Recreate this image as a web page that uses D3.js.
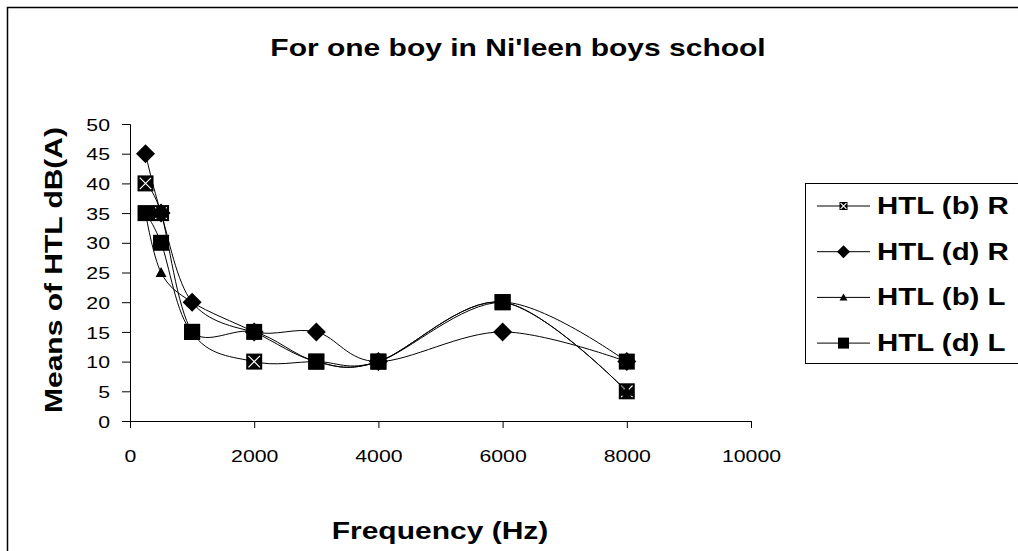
<!DOCTYPE html>
<html>
<head>
<meta charset="utf-8">
<script src="https://cdn.jsdelivr.net/npm/d3@7"></script>
<style>
  html, body { margin: 0; padding: 0; background: #fff; }
  svg { display: block; font-family: "Liberation Sans", Arial, sans-serif; }
</style>
</head>
<body>
<svg id="chart" width="1018" height="551"></svg>
<script>
// Test frequencies (Hz)
const frequencies = [250, 500, 1000, 2000, 3000, 4000, 6000, 8000];

// Hearing threshold levels, dB(A)
const htlBR = [40, 35, 15, 10, 10, 10, 20, 5];
const htlDR = [45, 35, 20, 15, 15, 10, 15, 10];
const htlBL = [35, 25, 20, 15, 10, 10, 20, 5];
const htlDL = [35, 30, 15, 15, 10, 10, 20, 10];

const seriesNames = ["HTL (b) R", "HTL (d) R", "HTL (b) L", "HTL (d) L"];
const seriesValues = [htlBR, htlDR, htlBL, htlDL];
const seriesMarkers = ["xbox", "diamond", "triangle", "square"];

const xTicks = [0, 2000, 4000, 6000, 8000, 10000];
const yTicks = [0, 5, 10, 15, 20, 25, 30, 35, 40, 45, 50];

const titleText = "For one boy in Ni'leen boys school";
const xTitle = "Frequency (Hz)";
const yTitle = "Means of HTL dB(A)";

// the whole chart uses a slightly wide text face
const STRETCH = 1.25;

const svg = d3.select("#chart");

// outer chart frame
svg.append("rect")
  .attr("x", 7.5).attr("y", 7.5)
  .attr("width", 1030).attr("height", 560)
  .attr("fill", "#fff").attr("stroke", "#000").attr("stroke-width", 1.5);

const x = d3.scaleLinear().domain([0, 10000]).range([130, 751]);
const y = d3.scaleLinear().domain([0, 50]).range([421, 124]);

// axes
const xAxis = d3.axisBottom(x).tickValues(xTicks).tickSize(7).tickFormat(d3.format("d"));
const yAxis = d3.axisLeft(y).tickValues(yTicks).tickSize(8).tickFormat(d3.format("d"));

const gx = svg.append("g").attr("transform", `translate(0,${y(0)})`).call(xAxis);
const gy = svg.append("g").attr("transform", `translate(${x(0)},0)`).call(yAxis);
[gx, gy].forEach(g => {
  g.selectAll("path.domain").attr("stroke", "#000").attr("stroke-width", 1);
  g.selectAll(".tick line").attr("stroke", "#000");
  g.selectAll(".tick text")
    .attr("fill", "#000")
    .style("font-family", "'Liberation Sans', Arial, sans-serif")
    .style("font-size", "17px");
});
gx.selectAll(".tick text")
  .attr("x", null).attr("y", null).attr("dy", null)
  .attr("transform", `translate(0,41) scale(${STRETCH},1)`);
gy.selectAll(".tick text")
  .attr("x", null).attr("dy", "0.36em")
  .attr("transform", `translate(-20,0) scale(${STRETCH},1)`);

// marker drawing
function drawMarker(g, type, cx, cy, s) {
  const h = s / 2;
  if (type === "xbox") {
    g.append("rect").attr("x", cx - h).attr("y", cy - h)
      .attr("width", s).attr("height", s).attr("fill", "#000");
    const k = h * 0.72;
    g.append("path")
      .attr("d", `M${cx - k},${cy - k}L${cx + k},${cy + k}M${cx + k},${cy - k}L${cx - k},${cy + k}`)
      .attr("stroke", "#fff").attr("stroke-width", 1.2);
  } else if (type === "diamond") {
    g.append("path")
      .attr("d", `M${cx},${cy - h}L${cx + h},${cy}L${cx},${cy + h}L${cx - h},${cy}Z`)
      .attr("fill", "#000");
  } else if (type === "triangle") {
    g.append("path")
      .attr("d", `M${cx},${cy - h}L${cx + h},${cy + h * 0.8}L${cx - h},${cy + h * 0.8}Z`)
      .attr("fill", "#000");
  } else {
    g.append("rect").attr("x", cx - h).attr("y", cy - h)
      .attr("width", s).attr("height", s).attr("fill", "#000");
  }
}

const plotSizes = { xbox: 16, diamond: 19, triangle: 11, square: 16 };
const legendSizes = { xbox: 8, diamond: 13, triangle: 8, square: 11 };

const line = d3.line()
  .x((d, i) => x(frequencies[i]))
  .y(d => y(d))
  .curve(d3.curveCardinal.tension(0));

// series: smoothed line then markers, in series order
seriesValues.forEach((vals, si) => {
  const g = svg.append("g");
  g.append("path").datum(vals)
    .attr("d", line)
    .attr("fill", "none").attr("stroke", "#000").attr("stroke-width", 1);
  vals.forEach((v, i) => drawMarker(g, seriesMarkers[si], x(frequencies[i]), y(v), plotSizes[seriesMarkers[si]]));
});

// bold text helper, widened about its anchor
function boldText(tx, ty, rot, size, str, anchor) {
  svg.append("text")
    .attr("transform", `translate(${tx},${ty}) rotate(${rot}) scale(${STRETCH},1)`)
    .attr("text-anchor", anchor)
    .style("font-size", size + "px").style("font-weight", "bold")
    .text(str);
}

// titles
boldText(518, 56, 0, 24, titleText, "middle");
boldText(440, 539, 0, 24, xTitle, "middle");
boldText(62, 270, -90, 24, yTitle, "middle");

// legend
const lg = svg.append("g");
lg.append("rect")
  .attr("x", 805.5).attr("y", 183.5)
  .attr("width", 230).attr("height", 180)
  .attr("fill", "#fff").attr("stroke", "#000").attr("stroke-width", 1);

seriesNames.forEach((name, i) => {
  const cy = 206 + i * 45.7;
  lg.append("line")
    .attr("x1", 817).attr("x2", 870).attr("y1", cy).attr("y2", cy)
    .attr("stroke", "#000").attr("stroke-width", 1);
  drawMarker(lg, seriesMarkers[i], 843.5, cy, legendSizes[seriesMarkers[i]]);
  lg.append("text")
    .attr("transform", `translate(877,${cy + 8}) scale(1.28,1)`)
    .style("font-size", "23px").style("font-weight", "bold")
    .text(name);
});
</script>
</body>
</html>
